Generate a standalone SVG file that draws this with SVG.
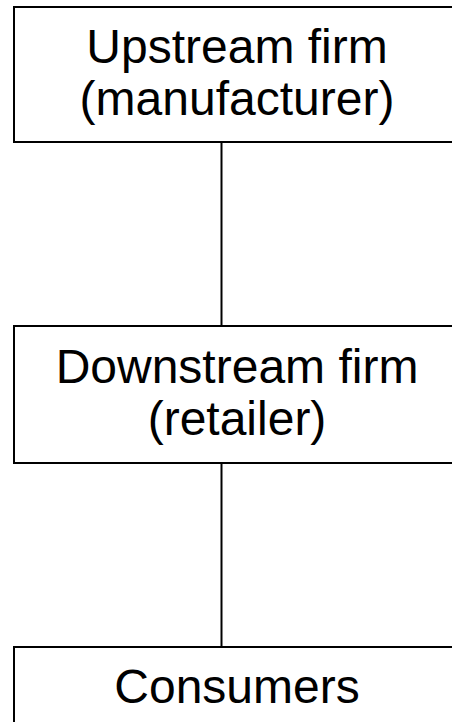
<svg xmlns="http://www.w3.org/2000/svg" width="452" height="722" viewBox="0 0 452 722">
  <style>
    .box { fill: #ffffff; stroke: #000000; stroke-width: 2; }
    .lbl { font-family: "Liberation Sans", Arial, sans-serif; font-size: 48px; fill: #000000; text-anchor: middle; }
    .link { stroke: #000000; stroke-width: 2; fill: none; }
  </style>
  <rect width="452" height="722" fill="#ffffff"/>
  <g id="connectors">
    <line class="link" x1="221.5" y1="142" x2="221.5" y2="326"/>
    <line class="link" x1="221.5" y1="463" x2="221.5" y2="647"/>
  </g>
  <g id="upstream">
    <rect class="box" x="14" y="7" width="448" height="135"/>
    <text class="lbl" x="237" y="63">Upstream firm</text>
    <text class="lbl" x="237" y="115">(manufacturer)</text>
  </g>
  <g id="downstream">
    <rect class="box" x="14" y="326" width="448" height="137"/>
    <text class="lbl" x="237" y="383">Downstream firm</text>
    <text class="lbl" x="237" y="435">(retailer)</text>
  </g>
  <g id="consumers">
    <rect class="box" x="14" y="647" width="448" height="100"/>
    <text class="lbl" x="237" y="703">Consumers</text>
  </g>
</svg>
